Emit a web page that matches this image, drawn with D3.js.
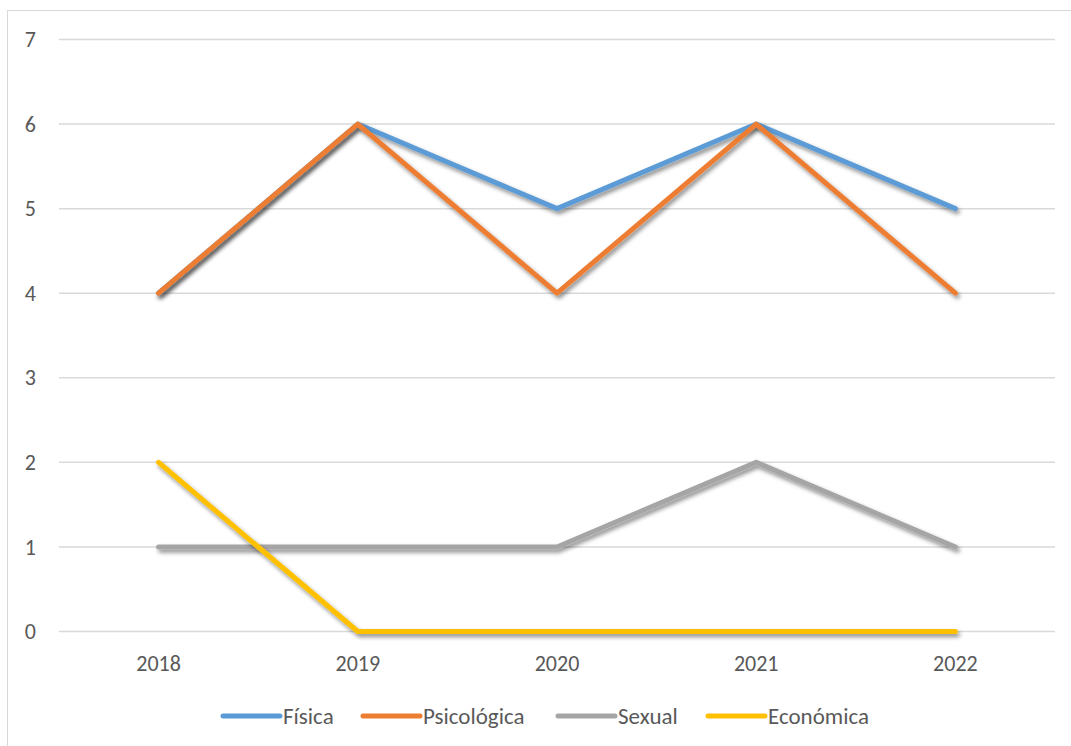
<!DOCTYPE html>
<html>
<head>
<meta charset="utf-8">
<script src="https://cdn.jsdelivr.net/npm/d3@7"></script>
<style>
body { margin: 0; background: #fff; }
text { font-family: Carlito, Lato, "Open Sans", sans-serif; fill: #595959; }
</style>
</head>
<body>
<script>
var years = ["2018", "2019", "2020", "2021", "2022"];
var seriesNames = ["Física", "Psicológica", "Sexual", "Económica"];
var fisica = [4, 6, 5, 6, 5];
var psicologica = [4, 6, 4, 6, 4];
var sexual = [1, 1, 1, 2, 1];
var economica = [2, 0, 0, 0, 0];
var yTicks = [0, 1, 2, 3, 4, 5, 6, 7];
var colors = ["#5B9BD5", "#ED7D31", "#A5A5A5", "#FFC000"];

var series = [fisica, psicologica, sexual, economica].map(function(v, i) {
    return { name: seriesNames[i], values: v, color: colors[i] };
});

var dim = { width: 1071, height: 746 };
var plot = { left: 59, right: 1055, top: 39.5, bottom: 631.5 };

var svg = d3.select("body").append("svg")
        .attr("width", dim.width)
        .attr("height", dim.height);

// chart border
svg.append("rect")
        .attr("x", 7.5).attr("y", 10.5)
        .attr("width", dim.width).attr("height", dim.height)
        .attr("fill", "none")
        .attr("stroke", "#D9D9D9")
        .attr("stroke-width", 1);

var defs = svg.append("defs");
var f = defs.append("filter").attr("id", "shadow")
        .attr("x", "-10%").attr("y", "-10%").attr("width", "120%").attr("height", "130%");
f.append("feDropShadow")
        .attr("dx", 2).attr("dy", 3).attr("stdDeviation", 2.2)
        .attr("flood-color", "#000").attr("flood-opacity", 0.45);

var x = d3.scalePoint().domain(years).range([plot.left, plot.right]).padding(0.5);
var y = d3.scaleLinear().domain([0, 7]).range([plot.bottom, plot.top]);

// gridlines
svg.append("g").selectAll("line").data(yTicks).enter().append("line")
        .attr("x1", plot.left).attr("x2", plot.right)
        .attr("y1", function(d) { return y(d); })
        .attr("y2", function(d) { return y(d); })
        .attr("stroke", "#D9D9D9").attr("stroke-width", 1.5);

// y labels
svg.append("g").selectAll("text").data(yTicks).enter().append("text")
        .attr("x", 36)
        .attr("y", function(d) { return y(d); })
        .attr("dy", "0.35em")
        .attr("text-anchor", "end")
        .style("font-size", "22px")
        .text(function(d) { return d; });

// x labels
svg.append("g").selectAll("text").data(years).enter().append("text")
        .attr("x", function(d) { return x(d); })
        .attr("y", plot.bottom + 32)
        .attr("dy", "0.35em")
        .attr("text-anchor", "middle")
        .style("font-size", "22px")
        .text(function(d) { return d; });

var line = d3.line()
        .x(function(d, i) { return x(years[i]); })
        .y(function(d) { return y(d); });

svg.append("g").selectAll("path").data(series).enter().append("path")
        .attr("d", function(d) { return line(d.values); })
        .attr("fill", "none")
        .attr("stroke", function(d) { return d.color; })
        .attr("stroke-width", 5)
        .attr("stroke-linecap", "round")
        .attr("stroke-linejoin", "round")
        .attr("filter", "url(#shadow)");

// legend
var legendX = [223, 363, 558, 708];
var legend = svg.append("g").selectAll("g").data(series).enter().append("g")
        .attr("transform", function(d, i) { return "translate(" + legendX[i] + ",716)"; });
legend.append("line")
        .attr("x1", 0).attr("x2", 57)
        .attr("stroke", function(d) { return d.color; })
        .attr("stroke-width", 5)
        .attr("stroke-linecap", "round");
legend.append("text")
        .attr("x", 60)
        .attr("dy", "0.35em")
        .style("font-size", "23px")
        .text(function(d) { return d.name; });
</script>
</body>
</html>
